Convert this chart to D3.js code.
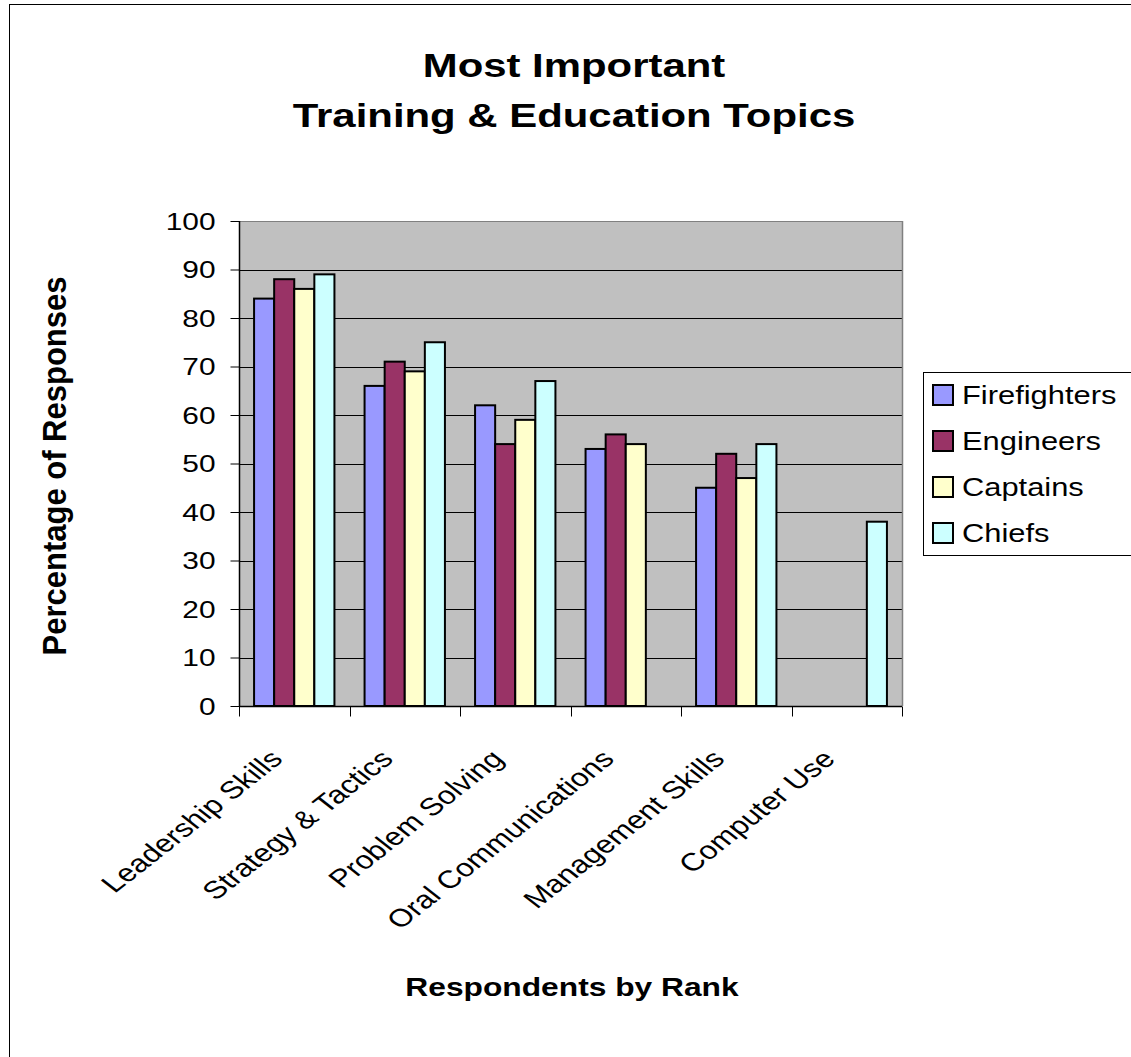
<!DOCTYPE html>
<html><head><meta charset="utf-8">
<script src="https://cdn.jsdelivr.net/npm/d3@7"></script>
<style>body{margin:0;background:#fff}svg{display:block;font-family:Arial,"Liberation Sans",sans-serif}</style>
</head><body><svg id="c" width="1131" height="1057"></svg>
<script>
const categories = ["Leadership Skills","Strategy & Tactics","Problem Solving","Oral Communications","Management Skills","Computer Use"];
const seriesNames = ["Firefighters","Engineers","Captains","Chiefs"];
const firefighters = [84,66,62,53,45,null];
const engineers = [88,71,54,56,52,null];
const captains = [86,69,59,54,47,null];
const chiefs = [89,75,67,null,54,38];
const colors = ["#9999FF","#993366","#FFFFCC","#CCFFFF"];
const yTicks = [0,10,20,30,40,50,60,70,80,90,100];
const seriesValues = [firefighters, engineers, captains, chiefs];

const SX = 1.27; // horizontal stretch of the reference text
const svg = d3.select("#c");
const L=239, R=902, T=221, B=706;

// outer border
svg.append("rect").attr("x",9.5).attr("y",4.5).attr("width",1140).attr("height",1080)
  .attr("fill","#fff").attr("stroke","#000").attr("stroke-width",1);

const x = d3.scaleBand().domain(categories).range([L,R]).padding(0);
const y = d3.scaleLinear().domain([0,100]).range([B,T]);
const bw = x.bandwidth()/5.5;
const xs = d3.scaleBand().domain(seriesNames).range([bw*0.75, x.bandwidth()-bw*0.75]).padding(0);

// plot area
svg.append("rect").attr("x",L).attr("y",T).attr("width",R-L).attr("height",B-T).attr("fill","#C0C0C0");
svg.append("g").selectAll("line").data(yTicks.filter(d=>d>0)).join("line")
  .attr("x1",L).attr("x2",R).attr("y1",d=>Math.round(y(d))+0.5).attr("y2",d=>Math.round(y(d))+0.5)
  .attr("stroke","#000").attr("stroke-width",1);
svg.append("line").attr("x1",R+0.5).attr("x2",R+0.5).attr("y1",T).attr("y2",B).attr("stroke","#808080").attr("stroke-width",1.5);
svg.append("line").attr("x1",L).attr("x2",R).attr("y1",T+0.5).attr("y2",T+0.5).attr("stroke","#808080").attr("stroke-width",1);

// bars
const data = [];
categories.forEach((c,i)=>seriesNames.forEach((s,j)=>{ const v=seriesValues[j][i]; if(v!=null) data.push({c,s,v,j}); }));
svg.append("g").selectAll("rect").data(data).join("rect")
  .attr("x",d=>x(d.c)+xs(d.s)).attr("width",xs.bandwidth())
  .attr("y",d=>y(d.v)).attr("height",d=>y(0)-y(d.v))
  .attr("fill",d=>colors[d.j]).attr("stroke","#000").attr("stroke-width",2);

// y axis
const yAxis = svg.append("g").attr("transform",`translate(${L+0.5},0)`)
  .call(d3.axisLeft(y).tickValues(yTicks).tickSize(9).tickPadding(5).tickFormat(d3.format("d")));
yAxis.select(".domain").attr("stroke","#000").attr("stroke-width",1.5).attr("d",`M0,${T}V${B}`);
yAxis.selectAll(".tick line").attr("stroke","#000").attr("stroke-width",1);
yAxis.selectAll("text").attr("font-size",24).attr("fill","#000").attr("font-family","Arial, 'Liberation Sans', sans-serif")
  .attr("x",0).attr("dy","0.35em").attr("transform",`translate(-24,0) scale(${SX*0.98},1)`);

// x axis
const xAxis = svg.append("g").attr("transform",`translate(0,${B+0.5})`);
xAxis.append("line").attr("x1",L).attr("x2",R).attr("stroke","#000").attr("stroke-width",1.5);
const bounds = categories.map(c=>x(c)).concat([R]);
xAxis.selectAll("line.t").data(bounds).join("line").attr("class","t")
  .attr("x1",d=>Math.round(d)+0.5).attr("x2",d=>Math.round(d)+0.5).attr("y1",0).attr("y2",10)
  .attr("stroke","#000").attr("stroke-width",1);
xAxis.selectAll("text").data(categories).join("text")
  .attr("transform",d=>`translate(${x(d)+x.bandwidth()/2-10},${54}) scale(${SX},1) rotate(-45)`)
  .attr("text-anchor","end").attr("font-size",25).attr("fill","#000").text(d=>d);

// titles
const title = svg.append("g").attr("transform",`translate(574,0) scale(${SX},1)`)
  .append("text").attr("text-anchor","middle").attr("font-size",33).attr("font-weight","bold");
title.append("tspan").attr("x",0).attr("y",77).text("Most Important");
title.append("tspan").attr("x",0).attr("y",127).text("Training & Education Topics");

svg.append("text").attr("transform","translate(66,466) scale(1.07,1) rotate(-90)").attr("text-anchor","middle")
  .attr("font-size",31).attr("font-weight","bold").text("Percentage of Responses");
svg.append("text").attr("transform",`translate(572,996) scale(${SX},1)`).attr("text-anchor","middle")
  .attr("font-size",25).attr("font-weight","bold").text("Respondents by Rank");

// legend
const lg = svg.append("g").attr("transform","translate(923,372)");
lg.append("rect").attr("x",0.5).attr("y",0.5).attr("width",230).attr("height",183)
  .attr("fill","#fff").attr("stroke","#000").attr("stroke-width",1);
const li = lg.selectAll("g.i").data(seriesNames).join("g").attr("class","i")
  .attr("transform",(d,i)=>`translate(0,${23+i*46})`);
li.append("rect").attr("x",10).attr("y",-10).attr("width",20).attr("height",20)
  .attr("fill",(d,i)=>colors[i]).attr("stroke","#000").attr("stroke-width",2);
li.append("text").attr("transform",`translate(39,9) scale(1.235,1)`).attr("font-size",25).text(d=>d);
</script></body></html>
